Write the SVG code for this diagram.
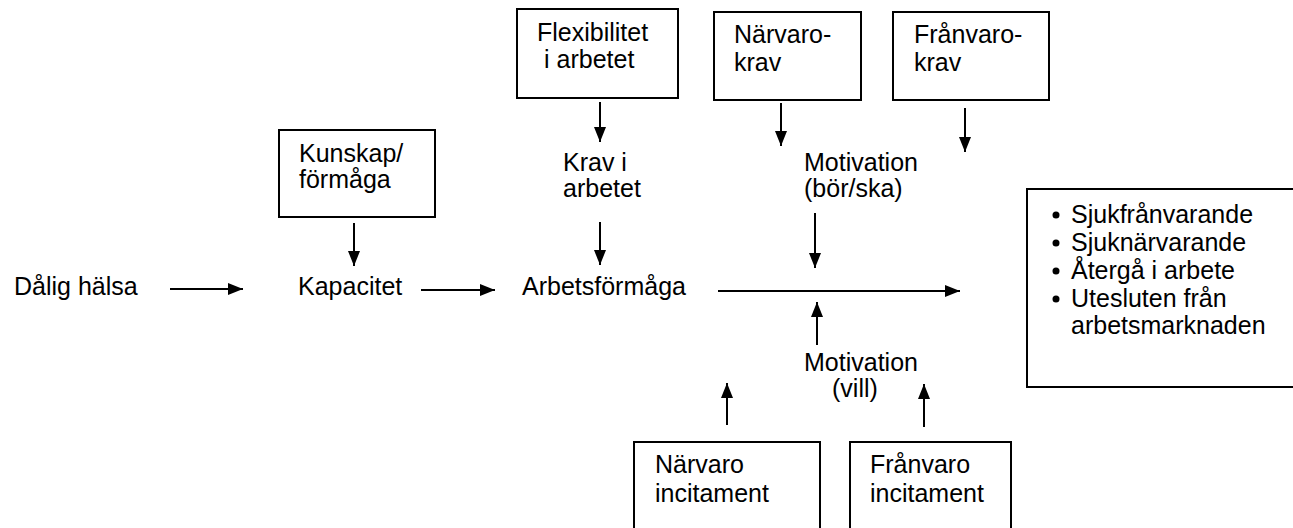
<svg xmlns="http://www.w3.org/2000/svg" width="1293" height="528" viewBox="0 0 1293 528">
<defs>
<style>
text{font-family:"Liberation Sans",Arial,sans-serif;font-size:25px;fill:#000}
.box{fill:#fff;stroke:#000;stroke-width:2}
.con line{stroke:#000;stroke-width:2;marker-end:url(#ah)}
</style>
<marker id="ah" markerUnits="userSpaceOnUse" markerWidth="16" markerHeight="13" refX="15" refY="6" orient="auto">
<path d="M0,0 L15,6 L0,12 z" fill="#000"/>
</marker>
</defs>
<rect width="1293" height="528" fill="#fff"/>
<g id="dalig-halsa"><text x="14" y="295">Dålig hälsa</text></g>
<g id="kunskap"><rect class="box" x="279" y="130" width="156" height="87"/><text x="299" y="162">Kunskap/</text><text x="299" y="188">förmåga</text></g>
<g id="kapacitet"><text x="298" y="295">Kapacitet</text></g>
<g id="flexibilitet"><rect class="box" x="517" y="9" width="161" height="89"/><text x="537" y="41">Flexibilitet</text><text x="544" y="68">i arbetet</text></g>
<g id="krav"><text x="563" y="171">Krav i</text><text x="563" y="197">arbetet</text></g>
<g id="arbetsformaga"><text x="522" y="295">Arbetsförmåga</text></g>
<g id="narvarokrav"><rect class="box" x="714" y="12" width="147" height="88"/><text x="734" y="43">Närvaro-</text><text x="734" y="71">krav</text></g>
<g id="franvarokrav"><rect class="box" x="893" y="12" width="156" height="88"/><text x="914" y="43">Frånvaro-</text><text x="914" y="71">krav</text></g>
<g id="motivation-bor"><text x="804" y="171">Motivation</text><text x="804" y="197">(bör/ska)</text></g>
<g id="motivation-vill"><text x="804" y="371">Motivation</text><text x="832" y="397">(vill)</text></g>
<g id="narvaro-incitament"><rect class="box" x="634" y="442" width="186" height="95"/><text x="655" y="473">Närvaro</text><text x="655" y="502">incitament</text></g>
<g id="franvaro-incitament"><rect class="box" x="850" y="442" width="161" height="95"/><text x="870" y="473">Frånvaro</text><text x="870" y="502">incitament</text></g>
<g id="utfall"><rect class="box" x="1027" y="189" width="280" height="198"/>
<circle cx="1056" cy="215" r="3.5"/><text x="1071" y="223">Sjukfrånvarande</text>
<circle cx="1056" cy="243" r="3.5"/><text x="1071" y="251">Sjuknärvarande</text>
<circle cx="1056" cy="271" r="3.5"/><text x="1071" y="279">Återgå i arbete</text>
<circle cx="1056" cy="299" r="3.5"/><text x="1071" y="307">Utesluten från</text>
<text x="1071" y="334">arbetsmarknaden</text></g>
<g class="con" id="connectors">
<line x1="170" y1="289" x2="243" y2="289"/>
<line x1="421" y1="290" x2="495" y2="290"/>
<line x1="718" y1="291" x2="960" y2="291"/>
<line x1="354" y1="223" x2="354" y2="266"/>
<line x1="600" y1="102" x2="600" y2="142"/>
<line x1="600" y1="222" x2="600" y2="265"/>
<line x1="781" y1="103" x2="781" y2="146"/>
<line x1="965" y1="108" x2="965" y2="152"/>
<line x1="815" y1="213" x2="815" y2="268"/>
<line x1="817" y1="345" x2="817" y2="302"/>
<line x1="727" y1="425" x2="727" y2="383"/>
<line x1="924" y1="427" x2="924" y2="384"/>
</g>
</svg>
